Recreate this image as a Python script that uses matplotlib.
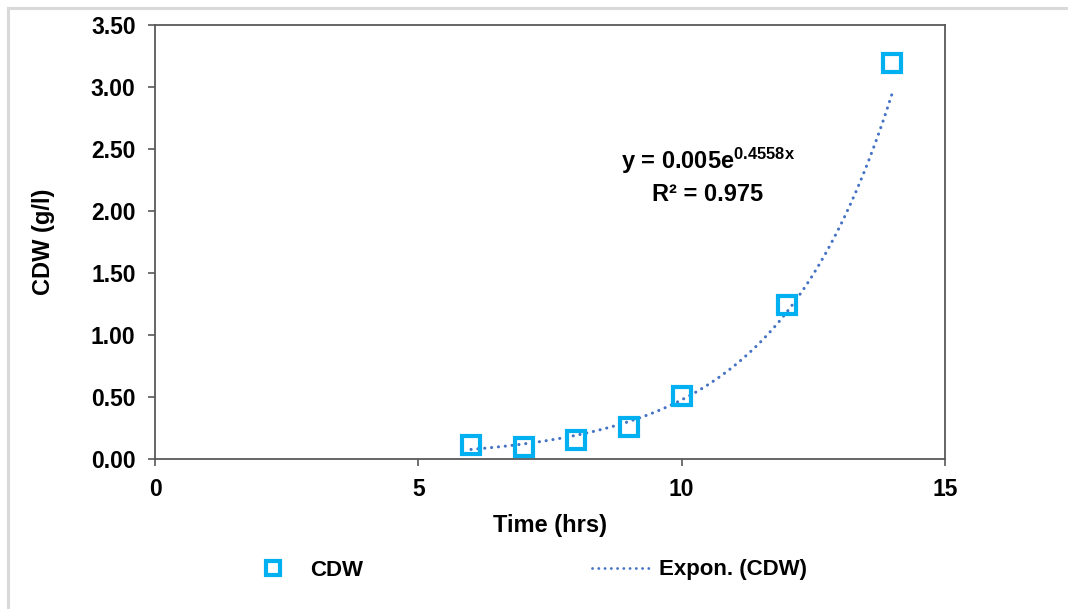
import numpy as np
import matplotlib
matplotlib.use("Agg")
import matplotlib.pyplot as plt
from matplotlib.lines import Line2D

# data
time_hrs = [6, 7, 8, 9, 10, 12, 14]
cdw = [0.11, 0.10, 0.15, 0.26, 0.51, 1.24, 3.19]

# exponential trendline as printed on the chart
fit_a = 0.005
fit_b = 0.4558
fit_r2 = 0.975

CYAN = "#00B0F0"
BLUE = "#4472C4"
SPINE = "#595959"
DOTS = (0, (0.05, 2.2))

plt.rcParams.update({
    "font.family": ["Liberation Sans", "DejaVu Sans"],
    "font.weight": "bold",
    "mathtext.fontset": "custom",
    "mathtext.rm": "Liberation Sans:bold",
    "mathtext.bf": "Liberation Sans:bold",
    "mathtext.it": "Liberation Sans:bold",
})

W, H = 1068, 609
fig = plt.figure(figsize=(W / 100, H / 100), dpi=100)
ax = fig.add_axes([155 / W, 1 - 459 / H, (945 - 155) / W, (459 - 25) / H])

xs = np.linspace(min(time_hrs), max(time_hrs), 200)
ax.plot(xs, fit_a * np.exp(fit_b * xs), color=BLUE, lw=2.2,
        linestyle=DOTS, dash_capstyle="round", zorder=2)
ax.plot(time_hrs, cdw, linestyle="none", marker="s", markersize=13.5,
        markerfacecolor="none", markeredgecolor=CYAN, markeredgewidth=3.0,
        zorder=3)

ax.set_xlim(0, 15)
ax.set_ylim(0, 3.5)
ax.set_xticks([0, 5, 10, 15])
ax.set_yticks(np.arange(0, 3.51, 0.5))
ax.set_yticklabels([f"{v:.2f}" for v in np.arange(0, 3.51, 0.5)])
ax.tick_params(direction="out", length=5, width=1.2, color=SPINE,
               labelsize=16.5, pad=9)
for sp in ax.spines.values():
    sp.set_color(SPINE)
    sp.set_linewidth(1.3)

ax.set_xlabel("Time (hrs)", fontsize=17, fontweight="bold", labelpad=9)
ax.set_ylabel("CDW (g/l)", fontsize=17, fontweight="bold", labelpad=26)

ax.text(10.5, 2.40, r"y = 0.005e$^{\mathbf{0.4558x}}$", ha="center",
        va="center", fontsize=17, fontweight="bold")
ax.text(10.5, 2.13, f"R\u00b2 = {fit_r2}", ha="center", va="center",
        fontsize=17, fontweight="bold")

handles = [
    Line2D([], [], linestyle="none", marker="s", markersize=10.0,
           markerfacecolor="none", markeredgecolor=CYAN, markeredgewidth=3.0),
    Line2D([], [], color=BLUE, lw=2.0, linestyle=DOTS,
           dash_capstyle="round"),
]
fig.legend(handles, ["CDW", "Expon. (CDW)"], loc="center",
           bbox_to_anchor=(525 / W, 1 - 570 / H), ncol=2, frameon=False,
           prop={"size": 16, "weight": "bold"}, handlelength=2.7,
           handletextpad=0.3, columnspacing=10.3)

# light grey chart-area border (top and left edges visible)
fig.add_artist(Line2D([7.5 / W, 7.5 / W], [0, 1 - 7.5 / H], color="#D9D9D9",
                      lw=2.2, transform=fig.transFigure))
fig.add_artist(Line2D([7.5 / W, 1], [1 - 7.5 / H, 1 - 7.5 / H],
                      color="#D9D9D9", lw=2.2, transform=fig.transFigure))

fig.savefig("out.png", dpi=100)
